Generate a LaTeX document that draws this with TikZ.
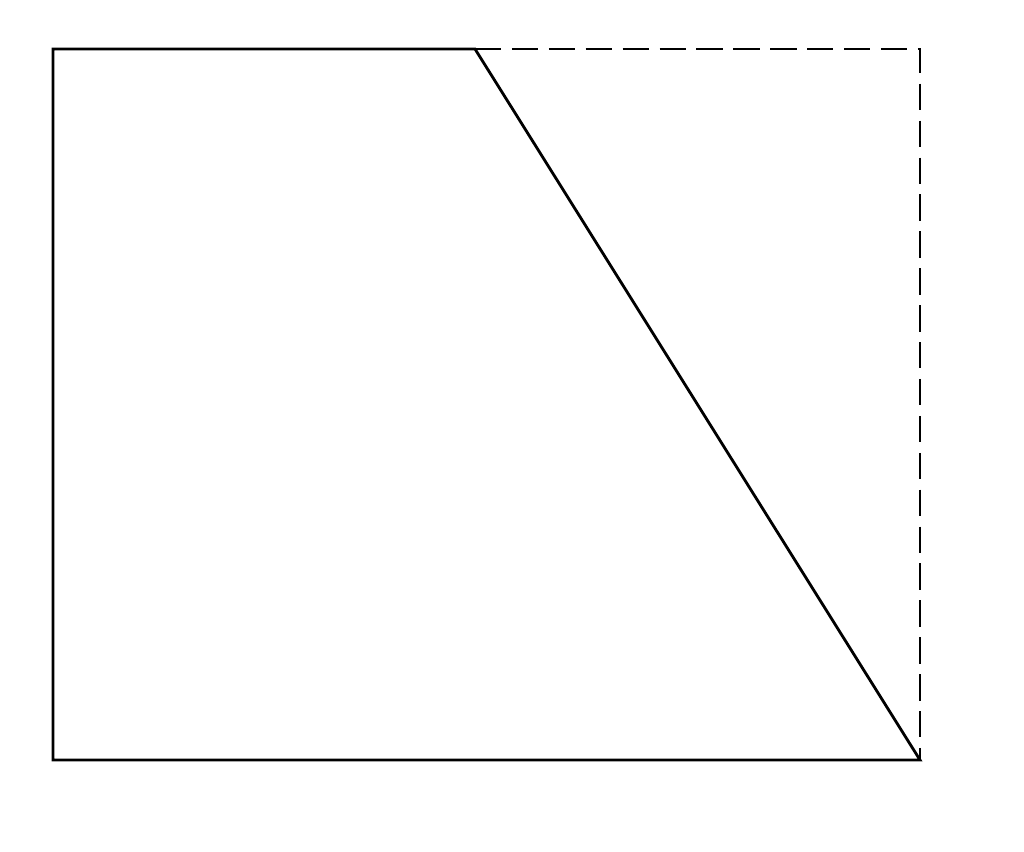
\documentclass[tikz,border=0pt]{standalone}
\usepackage{tikz}
\tikzset{%
  edge/.style={line width=0.8pt},
  hidden/.style={line width=0.8pt,dash pattern=on 7.5pt off 3pt},
}
\begin{document}
\begin{tikzpicture}
      \useasboundingbox (0,0) rectangle (10.24,8.52);
      \coordinate (bl) at (0.53,0.92);
      \coordinate (br) at (9.20,0.92);
      \coordinate (tr) at (9.20,8.03);
      \coordinate (cut) at (4.75,8.03);
      \coordinate (tl) at (0.53,8.03);

      \draw[edge] (cut) -- (tl) -- (bl) -- (br) -- cycle;
      \draw[hidden] (cut) -- (tr) -- (br);
    \end{tikzpicture}
\end{document}
